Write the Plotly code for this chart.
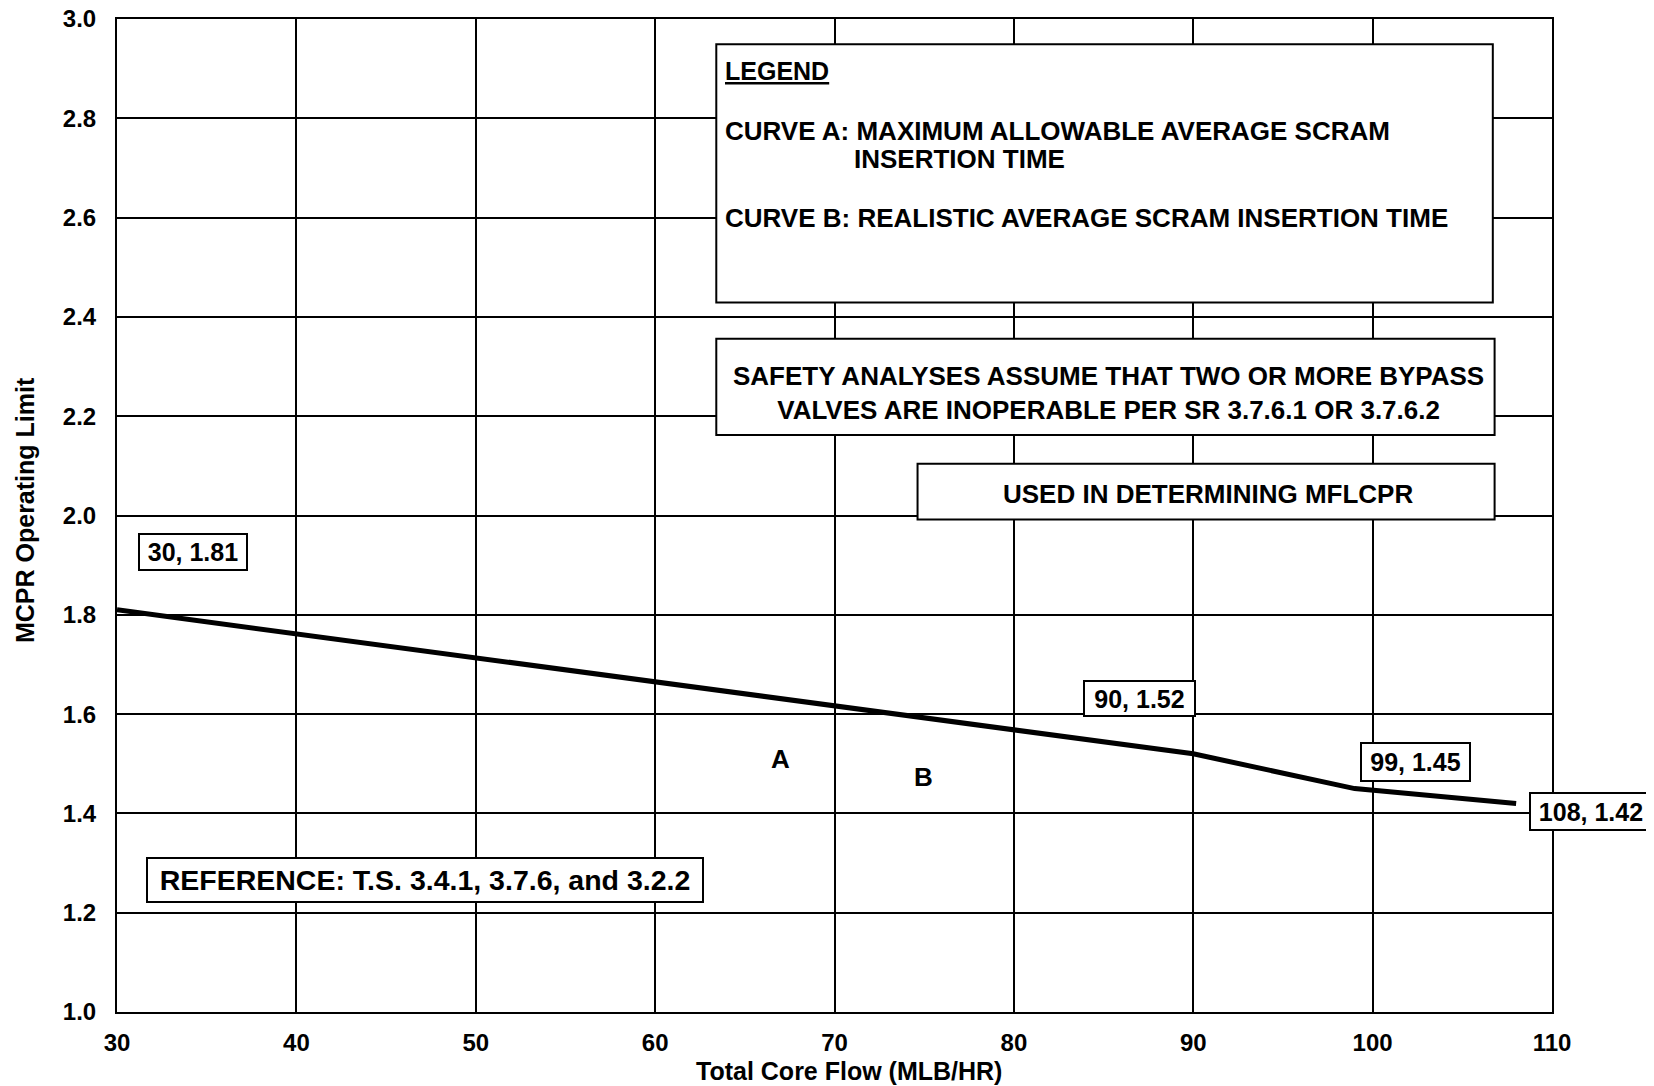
import plotly.graph_objects as go

# ---- data ----
flow = [30, 90, 99, 108]
mcpr = [1.81, 1.52, 1.45, 1.42]
point_labels = ["30, 1.81", "90, 1.52", "99, 1.45", "108, 1.42"]

x_ticks = [30, 40, 50, 60, 70, 80, 90, 100, 110]
x_tick_labels = ["30", "40", "50", "60", "70", "80", "90", "100", "110"]
y_ticks = [1.0, 1.2, 1.4, 1.6, 1.8, 2.0, 2.2, 2.4, 2.6, 2.8, 3.0]
y_tick_labels = ["1.0", "1.2", "1.4", "1.6", "1.8", "2.0", "2.2", "2.4", "2.6", "2.8", "3.0"]

x_title = "Total Core Flow (MLB/HR)"
y_title = "MCPR Operating Limit"
legend_title = "LEGEND"
curve_a_line1 = "CURVE A: MAXIMUM ALLOWABLE AVERAGE SCRAM"
curve_a_line2 = "INSERTION TIME"
curve_b_text = "CURVE B: REALISTIC AVERAGE SCRAM INSERTION TIME"
safety_text = "SAFETY ANALYSES ASSUME THAT TWO OR MORE BYPASS<br>VALVES ARE INOPERABLE PER SR 3.7.6.1 OR 3.7.6.2"
mflcpr_text = "USED IN DETERMINING MFLCPR"
reference_text = "REFERENCE: T.S. 3.4.1, 3.7.6, and 3.2.2"
curve_names = ["A", "B"]

# ---- layout helpers (positions/styles) ----
FONT = "Liberation Sans, Arial, Helvetica, sans-serif"
# (x, y, xanchor) of each point label box
label_pos = [(34.24, 1.926, "center"), (87.0, 1.631, "center"),
             (102.37, 1.503, "center"), (108.74, 1.403, "left")]
label_size = [(110, 38), (113, 37), (111, 40), (124, 39)]
curve_name_pos = [(67.01, 1.51), (74.96, 1.474)]

fig = go.Figure()
fig.add_trace(go.Scatter(
    x=flow, y=mcpr, mode="lines",
    line=dict(color="black", width=5),
    showlegend=False, hoverinfo="skip",
))

def bfont(size):
    return dict(family=FONT, size=size, color="black", weight="bold")

shapes = []
for (x0, x1, y0, y1) in [(63.41, 106.7, 2.429, 2.949),
                         (63.41, 106.8, 2.162, 2.356),
                         (74.63, 106.8, 1.992, 2.104)]:
    shapes.append(dict(type="rect", xref="x", yref="y", x0=x0, x1=x1, y0=y0, y1=y1,
                       line=dict(color="black", width=2), fillcolor="white", layer="above"))

ann = []
# legend texts
ann.append(dict(x=63.8, y=2.895, xref="x", yref="y", xanchor="left", yanchor="middle",
                text="<u>" + legend_title + "</u>", showarrow=False, font=bfont(25)))
ann.append(dict(x=63.8, y=2.775, xref="x", yref="y", xanchor="left", yanchor="middle",
                text=curve_a_line1, showarrow=False, font=bfont(26)))
ann.append(dict(x=71.0, y=2.718, xref="x", yref="y", xanchor="left", yanchor="middle",
                text=curve_a_line2, showarrow=False, font=bfont(26)))
ann.append(dict(x=63.8, y=2.599, xref="x", yref="y", xanchor="left", yanchor="middle",
                text=curve_b_text, showarrow=False, font=bfont(26)))
ann.append(dict(x=85.3, y=2.247, xref="x", yref="y", xanchor="center", yanchor="middle",
                text=safety_text, showarrow=False, font=bfont(26)))
ann.append(dict(x=90.8, y=2.044, xref="x", yref="y", xanchor="center", yanchor="middle",
                text=mflcpr_text, showarrow=False, font=bfont(26)))
# point labels
for txt, (px, py, xa), (w, h) in zip(point_labels, label_pos, label_size):
    ann.append(dict(x=px, y=py, xref="x", yref="y", xanchor=xa, yanchor="middle",
                    text=txt, showarrow=False, font=bfont(25),
                    bordercolor="black", borderwidth=2, borderpad=2, bgcolor="white",
                    width=w - 8, height=h - 8, align="center", valign="middle"))
# reference box
ann.append(dict(x=47.15, y=1.266, xref="x", yref="y", xanchor="center", yanchor="middle",
                text=reference_text, showarrow=False, font=bfont(28.5),
                bordercolor="black", borderwidth=2, borderpad=2, bgcolor="white",
                width=550, height=38, align="center", valign="middle"))
# curve names
for nm, (px, py) in zip(curve_names, curve_name_pos):
    ann.append(dict(x=px, y=py, xref="x", yref="y", xanchor="center", yanchor="middle",
                    text=nm, showarrow=False, font=bfont(26)))
# axis titles
ann.append(dict(x=70.8, y=0, xref="x", yref="paper", xanchor="center", yanchor="middle",
                yshift=-59, text=x_title, showarrow=False, font=bfont(25)))
ann.append(dict(x=0, y=2.011, xref="paper", yref="y", xanchor="center", yanchor="middle",
                xshift=-92, textangle=-90, text=y_title, showarrow=False, font=bfont(25)))

# page body has an 8px default margin: shrink figure so it fits the 1654x1086 window
fig.update_layout(
    width=1646, height=1078,
    margin=dict(l=109, r=102, t=11, b=74, autoexpand=False),
    paper_bgcolor="white", plot_bgcolor="white",
    shapes=shapes, annotations=ann,
    showlegend=False,
)
fig.update_xaxes(range=[30, 110], tickvals=x_ticks, ticktext=x_tick_labels,
                 showgrid=True, gridcolor="black", gridwidth=2, zeroline=False,
                 showline=True, linecolor="black", linewidth=2, mirror=True,
                 ticks="", ticklabelstandoff=8, ticklabeloverflow="allow",
                 automargin=False, tickfont=bfont(24))
fig.update_yaxes(range=[1.0, 3.0], tickvals=y_ticks, ticktext=y_tick_labels,
                 showgrid=True, gridcolor="black", gridwidth=2, zeroline=False,
                 showline=True, linecolor="black", linewidth=2, mirror=True,
                 ticks="", ticklabelstandoff=14, ticklabeloverflow="allow",
                 automargin=False, tickfont=bfont(24))

fig.write_html("out.html")
